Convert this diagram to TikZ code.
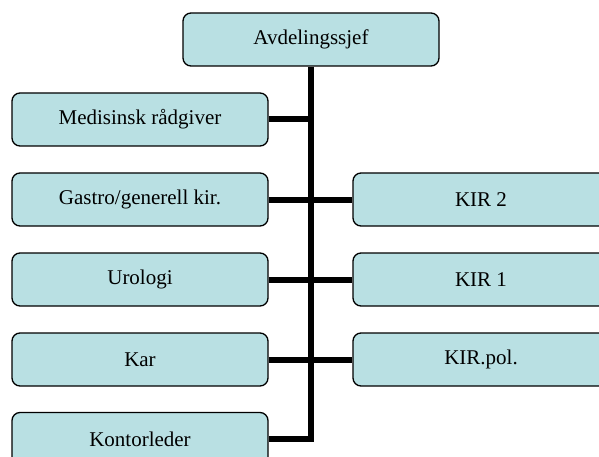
\documentclass[tikz,border=0pt]{standalone}
\usepackage{fontspec}
\setmainfont{Liberation Serif}
\definecolor{boxfill}{RGB}{185,224,227}
\begin{document}
\begin{tikzpicture}[x=1pt,y=-1pt]
		\tikzstyle{every node}=[font=\fontsize{21pt}{25pt}\selectfont]
		\tikzstyle{unit}=[draw=black, line width=1.3pt, fill=boxfill, rounded corners=8pt, minimum width=256pt, minimum height=53pt, inner sep=0pt]
		\tikzstyle{link}=[line width=6pt, line join=miter]
		
		\clip (0,0) rectangle (599,457);
		
		\node[unit] (sjef) at (311,39.5) {Avdelingssjef};
		
		\node[unit] (medisinsk) at (140,119.5) {Medisinsk rådgiver};
		\node[unit] (gastro) at (140,199.5) {Gastro/generell kir.};
		\node[unit] (urologi) at (140,279.5) {Urologi};
		\node[unit] (kar) at (140,359.5) {Kar};
		\node[unit] (kontor) at (140,439) {Kontorleder};
		
		\node[unit] (kirto) at (481,199.5) {KIR 2};
		\node[unit] (kiren) at (481,279.5) {KIR 1};
		\node[unit] (kirpol) at (481,359.5) {KIR.pol.};
		
		\coordinate (bunn) at (sjef.south |- kontor.east);
		
		\draw[link] (sjef.south) -- (bunn) -- (kontor.east);
		\draw[link] (medisinsk.east) -- (medisinsk.east -| bunn);
		\draw[link] (gastro.east) -- (kirto.west);
		\draw[link] (urologi.east) -- (kiren.west);
		\draw[link] (kar.east) -- (kirpol.west);
		
	\end{tikzpicture}
\end{document}
